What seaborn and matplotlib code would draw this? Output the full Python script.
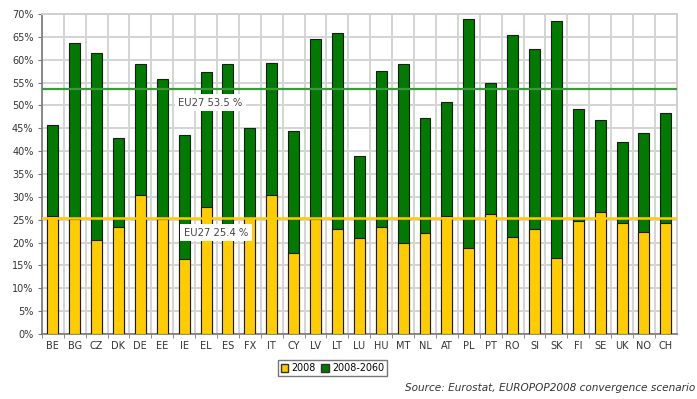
import pandas as pd
import numpy as np
import seaborn as sns
from matplotlib import pyplot as plt
from matplotlib.patches import Patch

countries = ['BE', 'BG', 'CZ', 'DK', 'DE', 'EE', 'IE', 'EL', 'ES', 'FX', 'IT', 'CY', 'LV', 'LT', 'LU',
             'HU', 'MT', 'NL', 'AT', 'PL', 'PT', 'RO', 'SI', 'SK', 'FI', 'SE', 'UK', 'NO', 'CH']
share_2008 = [25.7, 25.1, 20.6, 23.5, 30.3, 25.2, 16.4, 27.7, 24.1, 25.3, 30.4, 17.7, 25.1, 22.9, 20.9,
              23.5, 20.0, 22.0, 25.8, 18.9, 26.2, 21.3, 23.0, 16.7, 24.8, 26.6, 24.2, 22.2, 24.2]
share_2060 = [45.8, 63.6, 61.5, 42.9, 59.0, 55.7, 43.5, 57.2, 59.0, 45.1, 59.2, 44.5, 64.5, 65.8, 39.0,
              57.6, 59.0, 47.2, 50.7, 68.9, 54.8, 65.4, 62.3, 68.4, 49.2, 46.9, 42.0, 44.0, 48.3]
eu27_2008 = 25.4
eu27_2060 = 53.5

yellow = '#FFCC00'
green = '#007A00'

data = pd.DataFrame({'country': countries, 'y2008': share_2008, 'y2060': share_2060})

fig = plt.figure(figsize=(6.97, 3.99), dpi=100)
ax = fig.add_axes([0.060, 0.163, 0.911, 0.802])

sns.barplot(data=data, x='country', y='y2060', color=green, width=0.5, saturation=1,
            edgecolor='#1a1a1a', linewidth=0.8, ax=ax, zorder=2)
sns.barplot(data=data, x='country', y='y2008', color=yellow, width=0.5, saturation=1,
            edgecolor='#1a1a1a', linewidth=0.8, ax=ax, zorder=3)

ax.axhline(eu27_2060, color='#3a9a3a', linewidth=1.6, zorder=4)
ax.axhline(eu27_2008, color=yellow, linewidth=1.8, zorder=4)
ax.text(7.2, 50.6, 'EU27 53.5 %', fontsize=7.2, color='#444', ha='center', va='center', zorder=5,
        bbox=dict(facecolor='white', edgecolor='none', pad=2.5))
ax.text(7.45, 22.1, 'EU27 25.4 %', fontsize=7.2, color='#444', ha='center', va='center', zorder=5,
        bbox=dict(facecolor='white', edgecolor='none', pad=2.5))

ax.set_xlim(-0.5, len(countries) - 0.5)
ax.set_ylim(0, 70)
ax.set_yticks(np.arange(0, 71, 5))
ax.set_yticklabels([f'{v}%' for v in range(0, 71, 5)])
ax.set_xticks(np.arange(len(countries)) - 0.5, minor=True)
ax.grid(True, axis='y', color='#d4d4d4', linewidth=1.4, zorder=0)
ax.grid(True, axis='x', which='minor', color='#d4d4d4', linewidth=1.4, zorder=0)
ax.grid(False, axis='x', which='major')
ax.set_axisbelow(True)
ax.tick_params(axis='x', which='major', length=0, labelsize=7, labelcolor='#333', pad=5)
ax.tick_params(axis='x', which='minor', length=3, color='#777')
ax.tick_params(axis='y', length=3, color='#777', labelsize=7, labelcolor='#333', pad=3)
ax.set_xlabel('')
ax.set_ylabel('')
for s in ['left', 'bottom']:
    ax.spines[s].set_color('#777')
    ax.spines[s].set_linewidth(1.2)
for s in ['top', 'right']:
    ax.spines[s].set_color('#cfcfcf')
    ax.spines[s].set_linewidth(1.4)

handles = [Patch(facecolor=yellow, edgecolor='#333', label='2008'),
           Patch(facecolor=green, edgecolor='#333', label='2008-2060')]
fig.legend(handles=handles, loc='center', bbox_to_anchor=(0.477, 0.077), ncol=2, fontsize=6.9,
           frameon=True, edgecolor='#555', fancybox=False, handlelength=0.8, handleheight=0.8,
           handletextpad=0.3, columnspacing=0.6, borderpad=0.3)

fig.text(0.998, 0.028, 'Source: Eurostat, EUROPOP2008 convergence scenario', fontsize=7.6,
         style='italic', color='#333', ha='right', va='center')

plt.savefig('out.png', dpi=100)
